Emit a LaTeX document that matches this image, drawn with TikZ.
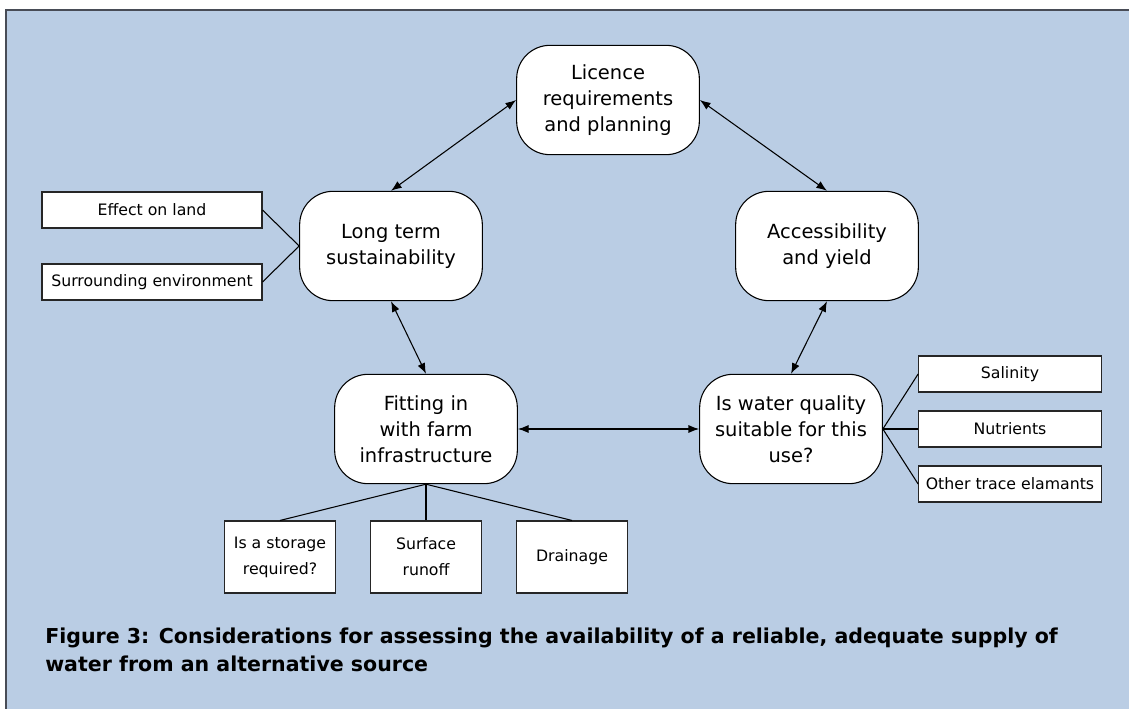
\documentclass[tikz,border=0pt]{standalone}
\usepackage{fontspec}
\setmainfont{DejaVu Sans}
\usetikzlibrary{arrows.meta}
\definecolor{panelblue}{RGB}{186,205,228}
\definecolor{paneledge}{RGB}{72,76,86}

\tikzset{topic/.style={shape=rectangle,rounded corners=25pt,draw=black,fill=white,
            line width=0.8pt,minimum width=137pt,minimum height=82pt,align=center,
            inner sep=2pt,font=\fontsize{14.6}{19.5}\selectfont},
        factor/.style={shape=rectangle,draw=black!85,fill=white,line width=0.8pt,
            minimum height=27pt,align=center,inner sep=2pt,
            font=\fontsize{11.8}{19.5}\selectfont},
        link/.style={draw=black,line width=0.8pt},
        >={Latex[length=8pt,width=6pt]}}

\begin{document}
\begin{tikzpicture}[x=0.75pt,y=-0.75pt]
        \clip (0,0) rectangle (1129,709);
        \useasboundingbox (0,0) rectangle (1129,709);
        \draw[fill=panelblue,draw=paneledge,line width=1.5pt] (6,10) rectangle (1140,720);

        % main considerations
        \node[topic] (licence) at (608,100) {Licence\\requirements\\and planning};
        \node[topic] (access) at (827,246) {Accessibility\\and yield};
        \node[topic] (longterm) at (391,246) {Long term\\sustainability};
        \node[topic] (fitting) at (426,429) {Fitting in\\with farm\\infrastructure};
        \node[topic] (quality) at (791,429) {Is water quality\\suitable for this\\use?};

        % side factors
        \node[factor,minimum width=165pt] (land) at (152,210) {Effect on land};
        \node[factor,minimum width=165pt] (environ) at (152,282) {Surrounding environment};
        \node[factor,minimum width=137pt] (salinity) at (1010,374) {Salinity};
        \node[factor,minimum width=137pt] (nutrients) at (1010,429) {Nutrients};
        \node[factor,minimum width=137pt] (trace) at (1010,484) {Other trace elamants};
        \node[factor,minimum width=83pt,minimum height=54pt] (storage) at (280,557) {Is a storage\\required?};
        \node[factor,minimum width=83pt,minimum height=54pt] (runoff) at (426,557) {Surface\\runoff};
        \node[factor,minimum width=83pt,minimum height=54pt] (drainage) at (572,557) {Drainage};

        \path [link,<->] (licence.west) -- (longterm.north);
        \path [link,<->] (licence.east) -- (access.north);
        \path [link,<->] (access.south) -- (quality.north);
        \path [link,<->] (longterm.south) -- (fitting.north);
        \path [link,<->] (fitting.east) -- (quality.west);

        \path [link] (land.east) -- (longterm.west);
        \path [link] (environ.east) -- (longterm.west);
        \path [link] (quality.east) -- (salinity.west);
        \path [link] (quality.east) -- (nutrients.west);
        \path [link] (quality.east) -- (trace.west);
        \path [link] (fitting.south) -- (storage.north);
        \path [link] (fitting.south) -- (runoff.north);
        \path [link] (fitting.south) -- (drainage.north);

        \node[anchor=north west,align=left,inner sep=0pt,
            font=\bfseries\fontsize{15.4}{21}\selectfont] (caption) at (45,628)
            {Figure 3: Considerations for assessing the availability of a reliable, adequate supply of\\water from an alternative source};
      \end{tikzpicture}
\end{document}
